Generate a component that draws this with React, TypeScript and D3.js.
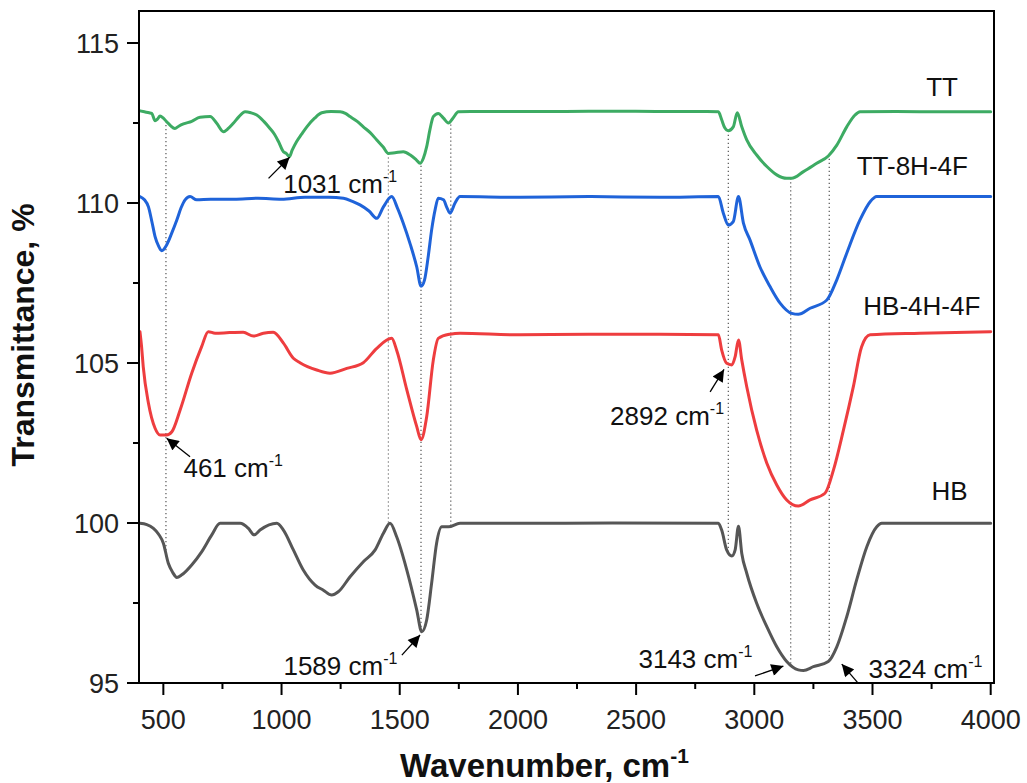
import React from "react";
import * as d3 from "d3";

// ---------- data ----------
const ttSeries: [number, number][] = [
  [401,112.88],[420,112.85],[440,112.82],[451,112.8],[465,112.57],[475,112.62],[486,112.72],[500,112.65],[514,112.54],[530,112.42],[549,112.33],[565,112.4],[585,112.47],[620,112.55],[655,112.68],[698,112.7],[725,112.5],[754,112.23],[775,112.33],[796,112.49],[820,112.7],[846,112.85],[870,112.82],[895,112.75],[925,112.55],[951,112.33],[970,112.15],[987,111.92],[1008,111.6],[1020,111.55],[1033,111.45],[1045,111.65],[1064,111.92],[1085,112.15],[1107,112.38],[1140,112.65],[1170,112.82],[1210,112.86],[1248,112.85],[1270,112.8],[1290,112.7],[1320,112.55],[1346,112.38],[1375,112.2],[1403,111.97],[1430,111.75],[1452,111.55],[1480,111.57],[1515,111.6],[1545,111.5],[1570,111.35],[1586,111.24],[1600,111.4],[1614,111.76],[1628,112.3],[1642,112.7],[1663,112.8],[1685,112.65],[1706,112.5],[1725,112.65],[1748,112.85],[1800,112.86],[2000,112.86],[2200,112.86],[2400,112.87],[2600,112.86],[2800,112.86],[2848,112.85],[2862,112.6],[2875,112.35],[2890,112.26],[2911,112.38],[2928,112.82],[2947,112.38],[2968,111.97],[3010,111.5],[3053,111.14],[3095,110.88],[3137,110.77],[3158,110.77],[3208,110.98],[3264,111.24],[3313,111.47],[3349,111.81],[3391,112.38],[3426,112.75],[3447,112.85],[3600,112.86],[3800,112.85],[4000,112.85]
];
const tt8hSeries: [number, number][] = [
  [401,110.2],[420,110.1],[437,109.88],[452,109.4],[465,108.95],[480,108.65],[493,108.51],[514,108.69],[535,109.05],[557,109.47],[575,109.85],[592,110.1],[613,110.2],[641,110.1],[700,110.12],[800,110.12],[900,110.15],[1000,110.12],[1100,110.18],[1200,110.18],[1262,110.15],[1300,110.05],[1332,109.94],[1370,109.75],[1403,109.52],[1431,109.88],[1466,110.2],[1490,109.85],[1515,109.37],[1545,108.7],[1572,108.0],[1590,107.4],[1605,107.6],[1620,108.3],[1635,109.16],[1650,109.8],[1663,110.15],[1685,110.1],[1700,109.85],[1713,109.68],[1734,110.0],[1755,110.2],[2000,110.18],[2300,110.2],[2600,110.18],[2848,110.2],[2869,109.68],[2890,109.31],[2911,109.42],[2933,110.2],[2954,109.37],[2982,108.84],[3024,108.0],[3067,107.38],[3109,106.87],[3158,106.55],[3186,106.52],[3236,106.71],[3307,106.97],[3349,107.6],[3391,108.43],[3447,109.47],[3490,110.04],[3518,110.2],[3700,110.2],[4000,110.2]
];
const hb4hSeries: [number, number][] = [
  [401,105.98],[408,105.5],[415,104.88],[437,103.74],[465,102.96],[486,102.75],[514,102.75],[536,102.85],[571,103.53],[620,104.68],[662,105.51],[690,105.98],[719,105.93],[780,105.95],[838,105.96],[881,105.84],[923,105.93],[965,105.96],[1008,105.62],[1050,105.15],[1078,105.01],[1149,104.78],[1205,104.68],[1276,104.83],[1346,105.01],[1403,105.46],[1466,105.77],[1487,105.4],[1530,104.16],[1572,103.01],[1590,102.6],[1614,103.32],[1642,105.09],[1663,105.77],[1713,105.9],[1755,105.93],[2000,105.88],[2300,105.9],[2600,105.9],[2848,105.88],[2862,105.4],[2883,104.99],[2905,104.94],[2919,105.2],[2933,105.72],[2947,105.09],[2968,104.26],[3010,102.9],[3053,101.87],[3095,101.19],[3137,100.72],[3186,100.53],[3236,100.72],[3299,100.93],[3335,101.66],[3377,102.9],[3419,104.26],[3454,105.51],[3490,105.88],[3701,105.93],[4000,105.98]
];
const hbSeries: [number, number][] = [
  [401,99.99],[430,99.95],[458,99.83],[480,99.65],[500,99.37],[521,98.74],[540,98.45],[557,98.3],[578,98.38],[620,98.69],[662,99.1],[705,99.63],[740,99.99],[825,99.99],[860,99.83],[884,99.63],[909,99.78],[980,99.99],[1008,99.78],[1050,99.16],[1092,98.53],[1142,98.06],[1177,97.9],[1212,97.75],[1240,97.85],[1290,98.32],[1346,98.79],[1396,99.16],[1431,99.68],[1459,99.99],[1487,99.57],[1530,98.53],[1572,97.28],[1593,96.6],[1614,96.97],[1635,98.12],[1656,99.37],[1678,99.88],[1706,99.88],[1755,99.99],[2000,99.99],[2400,100.0],[2848,99.99],[2862,99.78],[2883,99.16],[2905,98.97],[2919,99.16],[2933,99.9],[2947,99.05],[2968,98.43],[3010,97.49],[3053,96.76],[3095,96.13],[3137,95.67],[3186,95.41],[3208,95.39],[3250,95.51],[3313,95.67],[3349,96.13],[3391,97.07],[3433,98.22],[3476,99.26],[3518,99.88],[3539,99.99],[4000,99.99]
];

const seriesNames = ["TT", "TT-8H-4F", "HB-4H-4F", "HB"];
const seriesColors = ["#3dab63", "#1f63d9", "#ee3d3f", "#565656"];
const allSeries = [ttSeries, tt8hSeries, hb4hSeries, hbSeries];

const xMajorTicks = [500, 1000, 1500, 2000, 2500, 3000, 3500, 4000];
const xMinorTicks = [750, 1250, 1750, 2250, 2750, 3250, 3750];
const yMajorTicks = [95, 100, 105, 110, 115];
const yMinorTicks = [97.5, 102.5, 107.5, 112.5];

const guideWavenumbers = [511, 1452, 1590, 1716, 2890, 3154, 3317];

// annotation: label, tip (wn, T), tail (wn, T), text start (wn, T)
const peakLabels = ["1031", "461", "1589", "2892", "3143", "3324"];
const peakTips: [number, number][] = [[1034, 111.43], [514, 102.65], [1586, 96.5], [2872, 104.8], [3123, 95.53], [3370, 95.59]];
const peakTails: [number, number][] = [[945, 110.77], [613, 102.07], [1509, 95.87], [2813, 104.1], [3003, 95.22], [3440, 94.99]];
const peakTextPos: [number, number][] = [[1007, 110.3], [585, 101.45], [1008, 95.25], [2390, 103.06], [2510, 95.46], [3483, 95.15]];

const seriesLabelPos: [number, number][] = [[3727, 113.34], [3433, 110.88], [3461, 106.5], [3750, 100.72]];

// ---------- layout ----------
const W = 1027, H = 783;
const left = 139, right = 994, top = 11, bottom = 683;
const FONT = "Arial, 'Liberation Sans', Helvetica, sans-serif";

function interp(series: [number, number][], x: number) {
  const xs = series.map(d => d[0]);
  const i = d3.bisectLeft(xs, x);
  if (i <= 0) return series[0][1];
  if (i >= series.length) return series[series.length - 1][1];
  const [x0, y0] = series[i - 1];
  const [x1, y1] = series[i];
  return y0 + ((x - x0) / (x1 - x0)) * (y1 - y0);
}

export default function App() {
  const x = d3.scaleLinear().domain([397, 4014]).range([left, right]);
  const y = d3.scaleLinear().domain([95, 116]).range([bottom, top]);
  const line = d3.line<[number, number]>().x(d => x(d[0])).y(d => y(d[1])).curve(d3.curveMonotoneX);

  return (
    <svg width={W} height={H} style={{ position: "absolute", left: 0, top: 0, background: "#fff" }} fontFamily={FONT}>
      <defs>
        <marker id="arrowhead" viewBox="0 0 10 10" refX="10" refY="5" markerWidth="14" markerHeight="12" markerUnits="userSpaceOnUse" orient="auto">
          <path d="M0,0 L10,5 L0,10 z" fill="#000" />
        </marker>
      </defs>
      <rect x={0} y={0} width={W} height={H} fill="#fff" />

      {/* guide dotted lines */}
      {guideWavenumbers.map((g, i) => (
        <line key={"g" + i} x1={x(g)} x2={x(g)} y1={y(interp(ttSeries, g))} y2={y(interp(hbSeries, g))}
          stroke="#555" strokeWidth={1.2} strokeDasharray="1.2,2.8" />
      ))}

      {/* series */}
      {allSeries.map((s, i) => (
        <path key={"s" + i} d={line(s) || ""} fill="none" stroke={seriesColors[i]} strokeWidth={3} strokeLinejoin="round" strokeLinecap="round" />
      ))}

      {/* frame */}
      <rect x={left} y={top} width={right - left} height={bottom - top} fill="none" stroke="#000" strokeWidth={2} />

      {/* x ticks */}
      {xMajorTicks.map(t => (
        <g key={"xt" + t}>
          <line x1={x(t)} x2={x(t)} y1={bottom} y2={bottom + 12} stroke="#000" strokeWidth={2} />
          <text x={x(t)} y={bottom + 46} fontSize={27} textAnchor="middle" fill="#222">{t}</text>
        </g>
      ))}
      {xMinorTicks.map(t => (
        <line key={"xm" + t} x1={x(t)} x2={x(t)} y1={bottom} y2={bottom + 6} stroke="#000" strokeWidth={2} />
      ))}

      {/* y ticks */}
      {yMajorTicks.map(t => (
        <g key={"yt" + t}>
          <line x1={left - 12} x2={left} y1={y(t)} y2={y(t)} stroke="#000" strokeWidth={2} />
          <text x={left - 20} y={y(t) + 9.5} fontSize={27} textAnchor="end" fill="#222">{t}</text>
        </g>
      ))}
      {yMinorTicks.map(t => (
        <line key={"ym" + t} x1={left - 6} x2={left} y1={y(t)} y2={y(t)} stroke="#000" strokeWidth={2} />
      ))}

      {/* axis titles */}
      <text x={400} y={777} fontSize={33} fontWeight="bold" fill="#111">
        Wavenumber, cm<tspan dy={-14} fontSize={21}>-1</tspan>
      </text>
      <text transform={`translate(34, ${(193 + 477) / 2}) rotate(-90)`} fontSize={32} fontWeight="bold" textAnchor="middle" fill="#111">
        Transmittance, %
      </text>

      {/* series labels */}
      {seriesNames.map((n, i) => (
        <text key={"l" + i} x={x(seriesLabelPos[i][0])} y={y(seriesLabelPos[i][1])} fontSize={26} fill="#111">{n}</text>
      ))}

      {/* peak annotations */}
      {peakLabels.map((p, i) => (
        <g key={"p" + i}>
          <line x1={x(peakTails[i][0])} y1={y(peakTails[i][1])} x2={x(peakTips[i][0])} y2={y(peakTips[i][1])}
            stroke="#000" strokeWidth={1.3} markerEnd="url(#arrowhead)" />
          <text x={x(peakTextPos[i][0])} y={y(peakTextPos[i][1])} fontSize={26} fill="#111">
            {p} cm<tspan dy={-11} fontSize={16}>-1</tspan>
          </text>
        </g>
      ))}
    </svg>
  );
}
